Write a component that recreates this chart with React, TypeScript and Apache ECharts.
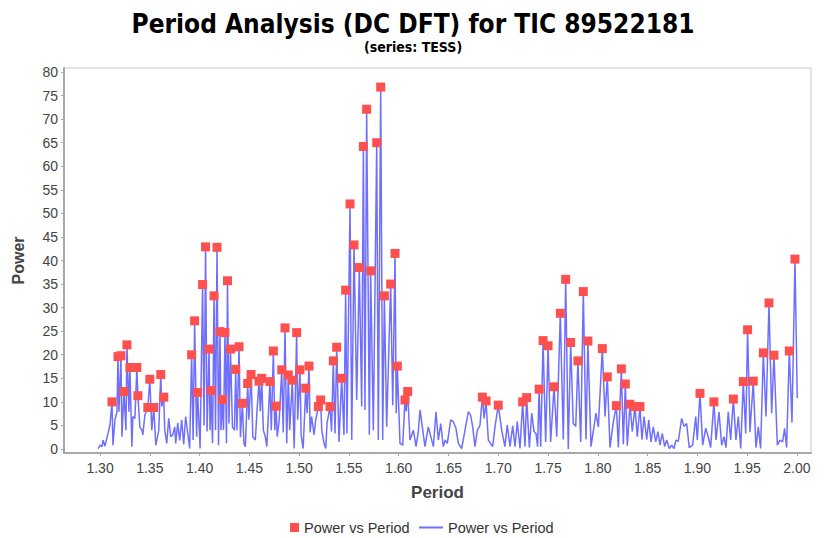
import React, { useEffect, useRef } from "react";
import * as echarts from "echarts";

const TITLE = "Period Analysis (DC DFT) for TIC 89522181";
const SUBTITLE = "(series: TESS)";
const X_NAME = "Period";
const Y_NAME = "Power";
const MARKER_SERIES = "Power vs Period";
const LINE_SERIES = "Power vs Period ";

const xTicks = [1.3, 1.35, 1.4, 1.45, 1.5, 1.55, 1.6, 1.65, 1.7, 1.75, 1.8, 1.85, 1.9, 1.95, 2.0];
const yTicks = [0, 5, 10, 15, 20, 25, 30, 35, 40, 45, 50, 55, 60, 65, 70, 75, 80];

// Power spectrum line: [period, power]
const linePoints: number[][] = [
  [1.298, 0.1], [1.3, 0.8], [1.302, 0.5], [1.303, 1.9], [1.305, 0.6], [1.306, 1.6], [1.308, 3.3], [1.31, 5.1],
  [1.312, 10.0], [1.313, 0.8], [1.315, 6.2], [1.317, 7.9], [1.318, 19.6], [1.319, 7.9], [1.321, 19.8], [1.322, 2.6],
  [1.324, 12.2], [1.326, 4.0], [1.327, 22.1], [1.329, 7.9], [1.33, 17.3], [1.332, 0.5], [1.333, 6.9], [1.335, 6.5],
  [1.337, 17.3], [1.338, 11.3], [1.34, 4.7], [1.342, 4.0], [1.343, 3.0], [1.345, 7.2], [1.348, 8.8], [1.35, 14.8],
  [1.352, 4.0], [1.354, 8.8], [1.356, 0.8], [1.359, 4.0], [1.361, 15.8], [1.362, 9.0], [1.364, 11.0], [1.365, 4.0],
  [1.367, 1.2], [1.369, 6.5], [1.371, 2.6], [1.373, 3.0], [1.375, 4.7], [1.376, 1.2], [1.378, 5.5], [1.38, 1.8],
  [1.382, 6.2], [1.384, 1.0], [1.386, 6.9], [1.388, 3.5], [1.39, 0.1], [1.392, 20.0], [1.3935, 1.9], [1.395, 27.2],
  [1.397, 2.6], [1.398, 12.0], [1.4005, 0.1], [1.403, 34.9], [1.4045, 5.0], [1.406, 42.9], [1.4075, 3.7], [1.4095, 21.2],
  [1.4105, 4.0], [1.4115, 12.4], [1.413, 1.2], [1.4145, 32.5], [1.416, 4.0], [1.4175, 42.8], [1.419, 0.8], [1.4205, 24.9],
  [1.4215, 4.0], [1.423, 10.5], [1.424, 4.0], [1.4255, 24.7], [1.427, 1.2], [1.428, 35.7], [1.4295, 5.4], [1.431, 21.2],
  [1.433, 4.7], [1.435, 4.0], [1.4363, 16.9], [1.4375, 4.0], [1.4396, 21.7], [1.441, 2.5], [1.443, 9.7], [1.4445, 1.2],
  [1.446, 0.5], [1.4483, 13.9], [1.4495, 6.2], [1.4517, 15.8], [1.4535, 2.6], [1.456, 1.9], [1.4575, 7.5], [1.4597, 14.4],
  [1.461, 8.0], [1.4624, 15.0], [1.464, 4.0], [1.466, 2.6], [1.4675, 0.5], [1.4707, 14.3], [1.472, 4.0], [1.4741, 20.8],
  [1.4755, 4.0], [1.4768, 9.1], [1.478, 2.6], [1.48, 6.2], [1.4825, 16.8], [1.484, 3.5], [1.4858, 25.7], [1.4875, 1.2],
  [1.4891, 15.7], [1.4905, 4.0], [1.4931, 14.6], [1.495, 0.1], [1.4975, 24.7], [1.4985, 6.2], [1.5008, 16.8], [1.502, 3.0],
  [1.504, 0.1], [1.5066, 12.9], [1.508, 7.6], [1.5099, 17.6], [1.511, 3.5], [1.5125, 6.9], [1.515, 3.0], [1.5165, 6.0],
  [1.5193, 9.0], [1.5216, 10.4], [1.5227, 4.0], [1.525, 1.2], [1.5267, 0.1], [1.528, 5.5], [1.531, 9.0], [1.5325, 3.7],
  [1.5343, 18.7], [1.536, 3.3], [1.5377, 21.6], [1.54, 1.5], [1.5427, 15.0], [1.545, 3.0], [1.5467, 33.7], [1.548, 3.3],
  [1.5511, 52.0], [1.5528, 1.9], [1.5551, 43.3], [1.5578, 10.4], [1.5604, 38.5], [1.5628, 9.0], [1.5645, 64.2], [1.5661, 8.3],
  [1.5678, 72.1], [1.5705, 3.0], [1.5718, 37.8], [1.5745, 4.0], [1.5779, 65.0], [1.5795, 1.9], [1.5819, 76.8], [1.5839, 1.9],
  [1.5856, 32.5], [1.5879, 4.7], [1.5919, 35.0], [1.594, 9.3], [1.5963, 41.5], [1.5975, 7.6], [1.5986, 17.6], [1.6013, 1.2],
  [1.604, 0.8], [1.6063, 10.4], [1.6075, 8.0], [1.609, 12.2], [1.6113, 1.9], [1.6147, 4.0], [1.6174, 0.5], [1.6197, 3.7],
  [1.6214, 8.3], [1.6264, 0.5], [1.6297, 4.7], [1.6348, 0.5], [1.6374, 7.9], [1.6398, 1.9], [1.6422, 5.4], [1.6448, 0.5],
  [1.6468, 1.9], [1.6488, 1.2], [1.6522, 6.2], [1.6548, 5.8], [1.6575, 4.4], [1.6599, 1.2], [1.6632, 0.1], [1.6666, 4.0],
  [1.6699, 7.9], [1.6722, 7.2], [1.6743, 4.7], [1.6766, 0.5], [1.679, 4.0], [1.6816, 5.0], [1.684, 11.0], [1.6858, 6.5],
  [1.6877, 10.2], [1.69, 1.9], [1.6943, 0.5], [1.6967, 4.7], [1.7, 9.3], [1.7034, 4.0], [1.7067, 0.5], [1.709, 5.1],
  [1.7118, 0.5], [1.7145, 4.9], [1.7168, 0.5], [1.7191, 5.8], [1.7218, 0.1], [1.7245, 10.0], [1.7268, 0.5], [1.7285, 10.9],
  [1.7312, 0.3], [1.7336, 7.6], [1.7359, 3.7], [1.7379, 3.3], [1.7395, 0.5], [1.741, 12.7], [1.7426, 0.5], [1.745, 23.0],
  [1.7476, 1.5], [1.75, 21.9], [1.7526, 1.5], [1.756, 13.2], [1.7587, 2.6], [1.7623, 28.8], [1.7653, 2.0], [1.7677, 36.0],
  [1.7703, 0.0], [1.7727, 22.6], [1.7753, 5.4], [1.7778, 4.8], [1.78, 18.7], [1.7828, 1.5], [1.7854, 33.4], [1.7881, 2.0],
  [1.79, 22.9], [1.7931, 0.5], [1.7961, 4.7], [1.7981, 7.6], [1.8005, 4.7], [1.8045, 21.3], [1.8072, 6.9], [1.8095, 15.3],
  [1.8122, 0.3], [1.8156, 5.8], [1.8186, 9.2], [1.8206, 0.3], [1.8236, 17.0], [1.8256, 1.0], [1.8276, 13.8], [1.8296, 0.7],
  [1.8323, 9.5], [1.8346, 3.7], [1.8373, 9.0], [1.8396, 2.6], [1.8423, 9.0], [1.8443, 2.0], [1.8464, 6.9], [1.8491, 2.0],
  [1.8511, 6.2], [1.8534, 1.5], [1.8557, 4.7], [1.8581, 1.5], [1.8604, 3.7], [1.8624, 0.8], [1.8647, 3.3], [1.8671, 0.5],
  [1.8691, 1.9], [1.8718, 0.1], [1.8741, 0.8], [1.8765, 0.1], [1.8785, 1.9], [1.8808, 1.6], [1.8842, 6.5], [1.8865, 4.8],
  [1.8892, 5.4], [1.8918, 0.3], [1.8952, 0.8], [1.8983, 6.9], [1.8999, 1.9], [1.9026, 11.8], [1.9053, 0.8], [1.9083, 4.4],
  [1.911, 2.5], [1.9133, 0.3], [1.9166, 10.0], [1.9187, 1.9], [1.9217, 7.9], [1.9244, 0.8], [1.9267, 2.6], [1.9287, 0.3],
  [1.931, 7.9], [1.9334, 1.9], [1.9361, 10.6], [1.9387, 1.9], [1.9411, 6.9], [1.9435, 0.1], [1.9461, 14.3], [1.9485, 3.3],
  [1.9504, 25.3], [1.9528, 3.6], [1.9561, 14.4], [1.9588, 0.3], [1.9612, 4.7], [1.9635, 0.1], [1.9662, 20.4], [1.9689, 6.9],
  [1.9719, 31.0], [1.9746, 7.6], [1.9769, 19.9], [1.9803, 0.8], [1.9829, 1.9], [1.9856, 1.5], [1.9876, 4.4], [1.9896, 0.3],
  [1.9923, 20.8], [1.995, 5.6], [1.998, 40.3], [2.0003, 10.8],
];

// Marked peaks: [period, power]
const peakPoints: number[][] = [
  [1.312, 10.0], [1.318, 19.6], [1.321, 19.8], [1.324, 12.2], [1.327, 22.1], [1.33, 17.3], [1.337, 17.3], [1.338, 11.3],
  [1.348, 8.8], [1.35, 14.8], [1.354, 8.8], [1.361, 15.8], [1.364, 11.0],
  [1.392, 20.0], [1.395, 27.2], [1.398, 12.0], [1.403, 34.9], [1.406, 42.9], [1.4095, 21.2], [1.4115, 12.4], [1.4145, 32.5],
  [1.4175, 42.8], [1.4205, 24.9], [1.423, 10.5], [1.4255, 24.7], [1.428, 35.7], [1.431, 21.2], [1.4363, 16.9], [1.4396, 21.7],
  [1.443, 9.7], [1.4483, 13.9], [1.4517, 15.8], [1.4597, 14.4], [1.4624, 15.0], [1.4707, 14.3], [1.4741, 20.8], [1.4768, 9.1],
  [1.4825, 16.8], [1.4858, 25.7], [1.4891, 15.7], [1.4931, 14.6], [1.4975, 24.7], [1.5008, 16.8], [1.5066, 12.9], [1.5099, 17.6],
  [1.5193, 9.0], [1.5216, 10.4], [1.531, 9.0], [1.5343, 18.7], [1.5377, 21.6], [1.5427, 15.0], [1.5467, 33.7], [1.5511, 52.0],
  [1.5551, 43.3], [1.5604, 38.5], [1.5645, 64.2], [1.5678, 72.1], [1.5718, 37.8], [1.5779, 65.0], [1.5819, 76.8], [1.5856, 32.5],
  [1.5919, 35.0], [1.5963, 41.5], [1.5986, 17.6], [1.6063, 10.4], [1.609, 12.2],
  [1.684, 11.0], [1.6877, 10.2], [1.7, 9.3], [1.7245, 10.0], [1.7285, 10.9], [1.741, 12.7], [1.745, 23.0], [1.75, 21.9],
  [1.756, 13.2], [1.7623, 28.8], [1.7677, 36.0], [1.7727, 22.6], [1.78, 18.7], [1.7854, 33.4], [1.79, 22.9], [1.8045, 21.3],
  [1.8095, 15.3], [1.8186, 9.2], [1.8236, 17.0], [1.8276, 13.8], [1.8323, 9.5], [1.8373, 9.0], [1.8423, 9.0],
  [1.9026, 11.8], [1.9166, 10.0], [1.9361, 10.6], [1.9461, 14.3], [1.9504, 25.3], [1.9561, 14.4], [1.9662, 20.4], [1.9719, 31.0],
  [1.9769, 19.9], [1.9923, 20.8], [1.998, 40.3],
];

const FONT = "'Liberation Sans Narrow', 'DejaVu Sans Condensed', 'Liberation Sans', sans-serif";
const LABEL_FONT = "'Liberation Sans', 'DejaVu Sans', sans-serif";

export default function App() {
  const ref = useRef<HTMLDivElement>(null);

  useEffect(() => {
    if (!ref.current) return;
    const chart = echarts.init(ref.current, null, { renderer: "svg" });
    const trim = (n: string) => n.trim();
    chart.setOption({
      animation: false,
      backgroundColor: "#ffffff",
      title: [
        {
          text: TITLE,
          left: "center",
          top: 6,
          textStyle: { fontFamily: FONT, fontWeight: "bold", fontSize: 26, color: "#000" },
        },
        {
          text: SUBTITLE,
          left: "center",
          top: 35,
          textStyle: { fontFamily: FONT, fontWeight: "bold", fontSize: 14, color: "#000" },
        },
      ],
      grid: {
        left: 64,
        right: 15,
        top: 68,
        bottom: 85,
        show: true,
        borderColor: "#c8c8c8",
        borderWidth: 1,
        backgroundColor: "#ffffff",
      },
      legend: [
        {
          data: [{ name: MARKER_SERIES, icon: "rect" }],
          left: 285,
          top: 515,
          itemWidth: 9,
          itemHeight: 9,
          itemGap: 6,
          formatter: trim,
          textStyle: { fontFamily: LABEL_FONT, fontSize: 14.5, color: "#333" },
        },
        {
          data: [{ name: LINE_SERIES, icon: "rect" }],
          left: 414,
          top: 515,
          itemWidth: 24,
          itemHeight: 2,
          formatter: trim,
          textStyle: { fontFamily: LABEL_FONT, fontSize: 14.5, color: "#333" },
        },
      ],
      xAxis: {
        type: "value",
        min: 1.2638,
        max: 2.0141,
        name: X_NAME,
        nameLocation: "middle",
        nameGap: 31,
        nameTextStyle: { fontFamily: LABEL_FONT, fontWeight: "bold", fontSize: 17, color: "#444" },
        axisLine: { show: true, onZero: false, lineStyle: { color: "#a8a8a8", width: 2 } },
        axisTick: { show: true, customValues: xTicks, length: 3, lineStyle: { color: "#a8a8a8" } },
        axisLabel: {
          customValues: xTicks,
          formatter: (v: number) => v.toFixed(2),
          fontFamily: LABEL_FONT,
          fontSize: 14,
          color: "#444",
          margin: 8,
        },
        splitLine: { show: false },
      },
      yAxis: {
        type: "value",
        min: -0.85,
        max: 80.85,
        name: Y_NAME,
        nameLocation: "middle",
        nameGap: 38,
        nameTextStyle: { fontFamily: LABEL_FONT, fontWeight: "bold", fontSize: 16, color: "#444" },
        axisLine: { show: true, onZero: false, lineStyle: { color: "#a8a8a8", width: 2 } },
        axisTick: { show: true, customValues: yTicks, length: 3, lineStyle: { color: "#a8a8a8" } },
        axisLabel: {
          customValues: yTicks,
          fontFamily: LABEL_FONT,
          fontSize: 14,
          color: "#444",
          margin: 6,
        },
        splitLine: { show: false },
      },
      series: [
        {
          name: LINE_SERIES,
          type: "line",
          data: linePoints,
          symbol: "none",
          showSymbol: false,
          z: 2,
          lineStyle: { color: "rgba(85,85,255,0.85)", width: 1.5 },
          itemStyle: { color: "rgba(85,85,255,0.85)" },
        },
        {
          name: MARKER_SERIES,
          type: "scatter",
          data: peakPoints,
          symbol: "rect",
          symbolSize: 9,
          z: 3,
          itemStyle: { color: "#ff5050", opacity: 1 },
        },
      ],
    });
    return () => chart.dispose();
  }, []);

  return (
    <div
      ref={ref}
      style={{ position: "absolute", left: 0, top: 0, width: 826, height: 538, background: "#fff" }}
    />
  );
}
